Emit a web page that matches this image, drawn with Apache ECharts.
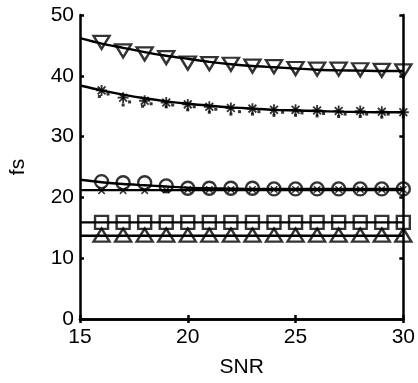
<!DOCTYPE html>
<html>
<head>
<meta charset="utf-8">
<script src="https://cdn.jsdelivr.net/npm/echarts@6/dist/echarts.min.js"></script>
<style>
  html, body { margin: 0; padding: 0; background: #fff; }
  #chart { width: 418px; height: 383px; }
</style>
</head>
<body>
<div id="chart"></div>
<script>
// SNR values where markers sit, and the x values of the fitted curves
const snr = [16, 17, 18, 19, 20, 21, 22, 23, 24, 25, 26, 27, 28, 29, 30];
const fitSnr = [15, 16, 17, 18, 19, 20, 21, 22, 23, 24, 25, 26, 27, 28, 29, 30];

// inverted triangles + fit
const triDown = [45.5, 44.1, 43.6, 43.0, 42.1, 42.0, 41.9, 41.6, 41.5, 41.2, 41.1, 41.1, 41.0, 40.9, 40.8];
const triDownFit = [46.2, 45.3, 44.6, 43.9, 43.3, 42.8, 42.3, 41.9, 41.6, 41.4, 41.2, 41.0, 40.9, 40.85, 40.8, 40.8];

// asterisks + fit
const stars = [37.6, 36.4, 35.9, 35.6, 35.3, 34.9, 34.7, 34.6, 34.4, 34.4, 34.3, 34.2, 34.2, 34.1, 34.0];
const starFit = [38.4, 37.6, 36.9, 36.3, 35.8, 35.4, 35.1, 34.8, 34.6, 34.4, 34.3, 34.2, 34.1, 34.05, 34.0, 34.0];
// small scattered dots around the asterisks
const starDots = [
  [15.9, 36.6], [16.3, 37.0], [17.0, 35.2], [17.3, 35.7], [17.9, 35.0], [18.3, 35.4],
  [19.0, 34.9], [19.3, 35.2], [20.0, 34.4], [20.3, 34.9], [21.0, 34.0], [21.3, 34.5],
  [22.0, 33.7], [22.4, 34.1], [23.0, 33.7], [23.3, 34.1], [24.0, 33.5], [24.4, 34.0],
  [25.0, 33.5], [25.3, 33.9], [26.0, 33.4], [26.3, 33.8], [27.0, 33.3], [27.3, 33.7],
  [28.0, 33.3], [28.3, 33.7], [29.0, 33.2], [29.3, 33.7], [30.0, 33.2], [30.3, 33.6]
];

// circles + fit
const circles = [22.6, 22.4, 22.4, 21.9, 21.5, 21.5, 21.5, 21.5, 21.4, 21.4, 21.4, 21.4, 21.4, 21.4, 21.4];
const circleFit = [22.9, 22.5, 22.2, 22.0, 21.8, 21.6, 21.5, 21.45, 21.4, 21.4, 21.4, 21.4, 21.4, 21.4, 21.4, 21.4];

// x marks on a flat line
const crosses = [21.1, 21.1, 21.1, 21.2, 21.3, 21.3, 21.3, 21.3, 21.3, 21.3, 21.3, 21.3, 21.3, 21.3, 21.3];
const crossLine = [21.2, 21.2, 21.2, 21.2, 21.2, 21.2, 21.2, 21.2, 21.2, 21.2, 21.2, 21.2, 21.2, 21.2, 21.2, 21.2];

// squares and upward triangles on flat lines
const squares = [15.9, 15.9, 15.9, 15.9, 15.9, 15.9, 15.9, 15.9, 15.9, 15.9, 15.9, 15.9, 15.9, 15.9, 15.9];
const squareLine = [15.9, 15.9, 15.9, 15.9, 15.9, 15.9, 15.9, 15.9, 15.9, 15.9, 15.9, 15.9, 15.9, 15.9, 15.9, 15.9];
const triUp = [13.8, 13.8, 13.8, 13.8, 13.8, 13.8, 13.8, 13.8, 13.8, 13.8, 13.8, 13.8, 13.8, 13.8, 13.8];
const triUpLine = [13.7, 13.7, 13.7, 13.7, 13.7, 13.7, 13.7, 13.7, 13.7, 13.7, 13.7, 13.7, 13.7, 13.7, 13.7, 13.7];

const xTicks = [15, 20, 25, 30];
const yTicks = [0, 10, 20, 30, 40, 50];

const font = 'Liberation Sans, Arial, sans-serif';
const plus = 'path://M-1,-6 L1,-6 L1,6 L-1,6 Z M-6,-1 L6,-1 L6,1 L-6,1 Z';

const zip = (xs, ys) => xs.map((x, i) => [x, ys[i]]);

function fitLine(xs, ys) {
  return {
    type: 'line', data: zip(xs, ys), symbol: 'none', smooth: 0.3,
    lineStyle: { color: '#000', width: 2.4 }, z: 2, silent: true
  };
}
function markers(ys, symbol, size, extra) {
  return Object.assign({
    type: 'scatter', data: zip(snr, ys), symbol: symbol, symbolSize: size,
    itemStyle: { color: 'rgba(255,255,255,0)', borderColor: '#000', borderWidth: 2.4 },
    z: 3, silent: true
  }, extra || {});
}
function solidMarkers(ys, symbol, size, rotate) {
  return {
    type: 'scatter', data: zip(snr, ys), symbol: symbol, symbolSize: size, symbolRotate: rotate || 0,
    itemStyle: { color: '#000' }, z: 3, silent: true
  };
}

const chart = echarts.init(document.getElementById('chart'));

const axisLine = { show: true, lineStyle: { color: '#000', width: 2.5 } };
const tickIn = { show: true, inside: true, length: 4, lineStyle: { color: '#000', width: 2.5 } };

chart.setOption({
  animation: false,
  backgroundColor: '#fff',
  grid: { left: 73, right: 13, top: 15, bottom: 61 },
  xAxis: [
    {
      type: 'value', min: xTicks[0], max: xTicks[xTicks.length - 1], interval: 5,
      axisLine: axisLine, axisTick: tickIn, splitLine: { show: false },
      axisLabel: { color: '#000', fontSize: 21, fontFamily: font, margin: 8 },
      name: 'SNR', nameLocation: 'middle', nameGap: 38,
      nameTextStyle: { color: '#000', fontSize: 21, fontFamily: font }
    },
    {
      type: 'value', position: 'top', min: xTicks[0], max: xTicks[xTicks.length - 1], interval: 5,
      axisLine: axisLine, axisTick: tickIn, axisLabel: { show: false }, splitLine: { show: false }
    }
  ],
  yAxis: [
    {
      type: 'value', min: yTicks[0], max: yTicks[yTicks.length - 1], interval: 10,
      axisLine: axisLine, axisTick: tickIn, splitLine: { show: false },
      axisLabel: { color: '#000', fontSize: 21, fontFamily: font, margin: 6 },
      name: 'fs', nameLocation: 'middle', nameGap: 51,
      nameTextStyle: { color: '#000', fontSize: 21, fontFamily: font }
    },
    {
      type: 'value', position: 'right', min: yTicks[0], max: yTicks[yTicks.length - 1], interval: 10,
      axisLine: axisLine, axisTick: tickIn, axisLabel: { show: false }, splitLine: { show: false }
    }
  ],
  series: [
    fitLine(fitSnr, triDownFit),
    markers(triDown, 'triangle', [16, 13], { symbolRotate: 180 }),

    fitLine(fitSnr, starFit),
    solidMarkers(stars, plus, 11, 0),
    solidMarkers(stars, plus, 11, 45),
    { type: 'scatter', data: starDots, symbol: 'rect', symbolSize: 3, itemStyle: { color: '#000' }, z: 3, silent: true },

    fitLine(fitSnr, circleFit),
    fitLine(fitSnr, crossLine),
    solidMarkers(crosses, plus, 9, 45),
    markers(circles, 'circle', 13),

    fitLine(fitSnr, squareLine),
    markers(squares, 'rect', 13),
    fitLine(fitSnr, triUpLine),
    markers(triUp, 'triangle', [16, 13])
  ]
});
</script>
</body>
</html>
